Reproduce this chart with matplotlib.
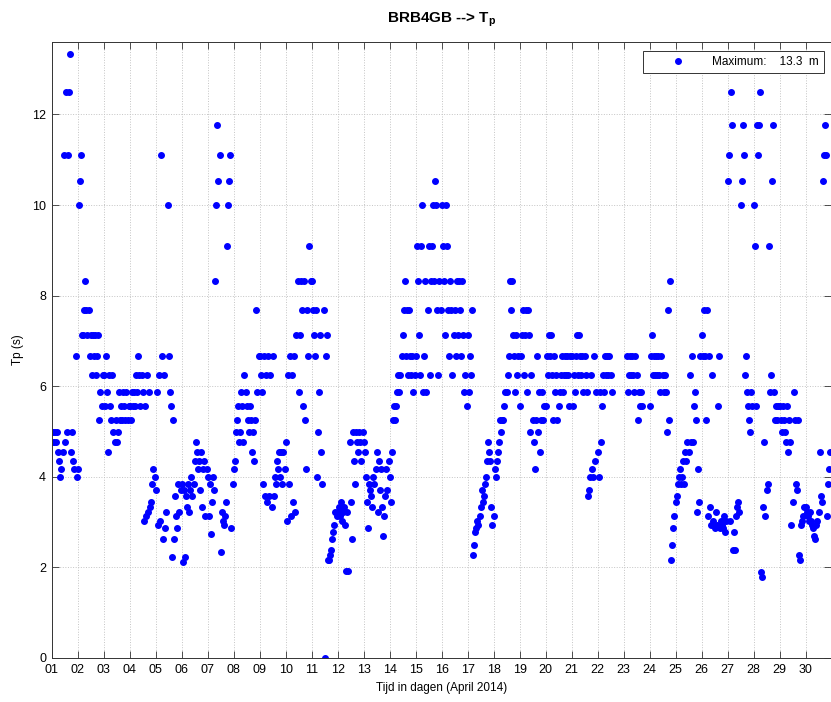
import numpy as np
import matplotlib.pyplot as plt

plt.rcParams['font.family'] = ['Liberation Sans', 'DejaVu Sans']
plt.rcParams['mathtext.fontset'] = 'custom'
plt.rcParams['mathtext.rm'] = 'Liberation Sans'
plt.rcParams['mathtext.bf'] = 'Liberation Sans:bold'

# hourly peak period Tp (s), one list per day of April 2014 (None = no data)
tp_01 = [4.76, 5.0, 4.76, 5.0, 4.76, 5.0, 4.55, 4.35, 4.0, 4.17, 4.55, 11.11, 4.76, 12.5, 5.0, 11.11, 12.5, 13.33, 4.55, 5.0, 4.35, 4.17, 6.67, 4.0]
tp_02 = [4.17, 10.0, 10.53, 11.11, 7.14, 7.14, 7.69, 8.33, 7.69, 7.14, 7.69, 6.67, 7.14, 6.25, 7.14, 6.67, 7.14, 6.25, 6.67, 7.14, 5.26, 5.88, 5.56, 6.25]
tp_03 = [6.25, 5.56, 6.67, 5.88, 4.55, 6.25, 5.56, 5.26, 6.25, 5.0, 4.76, 5.26, 4.76, 5.0, 5.88, 5.26, 5.56, 5.26, 5.88, 5.56, 5.26, 5.88, 5.26, 5.56]
tp_04 = [5.56, 5.26, 5.88, 5.56, 5.88, 5.56, 6.25, 5.88, 6.67, 6.25, 5.56, 6.25, 5.88, 3.03, 5.56, 3.13, 6.25, 3.23, 5.88, 3.33, 3.45, 3.85, 4.17, 4.0]
tp_05 = [3.7, 5.88, 2.94, 6.25, 3.03, 11.11, 6.67, 2.63, 6.25, 2.86, 3.23, 10.0, 6.67, 5.88, 5.56, 2.22, 5.26, 2.63, 3.57, 3.13, 2.86, 3.85, 3.23, 3.7]
tp_06 = [3.85, 2.13, 3.7, 2.22, 3.57, 3.33, 3.85, 3.23, 3.7, 4.0, 3.57, 3.85, 4.35, 4.76, 4.55, 4.17, 4.35, 3.7, 4.55, 3.33, 4.17, 4.35, 3.13, 4.17]
tp_07 = [4.0, 3.13, 3.85, 2.74, 3.45, 4.0, 3.7, 8.33, 10.0, 11.76, 10.53, 11.11, 2.33, 3.23, 3.03, 2.94, 3.13, 3.45, 9.09, 10.0, 10.53, 11.11, 2.86, 3.85]
tp_08 = [4.17, 4.35, 5.0, 5.26, 5.56, 4.76, 5.0, 5.88, 5.56, 4.76, 6.25, 5.88, 5.56, 5.26, 5.0, 5.56, 5.26, 4.55, 5.0, 4.35, 5.26, 7.69, 5.88, 6.67]
tp_09 = [6.67, 6.25, 5.88, 3.85, 6.67, 3.57, 6.25, 3.45, 6.67, 3.57, 6.25, 3.33, 6.67, 3.57, 4.0, 3.85, 4.35, 4.17, 4.55, 4.0, 4.55, 3.85, 4.55, 4.17]
tp_10 = [4.76, 3.03, 6.25, 3.85, 6.67, 3.13, 6.25, 3.45, 6.67, 3.23, 7.14, 8.33, 5.88, 7.14, 8.33, 7.69, 5.56, 8.33, 5.26, 4.17, 7.69, 6.67, 9.09, 8.33]
tp_11 = [8.33, 7.69, 7.14, 6.67, 7.69, 4.0, 5.0, 5.88, 7.14, 4.55, 3.85, 7.69, 0.0, 6.67, 7.14, 2.17, 2.17, 2.27, 2.38, 2.63, 2.78, 2.94, 3.23, 3.13]
tp_12 = [3.23, 3.33, 3.13, 3.45, 3.03, 3.23, 3.33, 2.94, 1.92, 3.23, 1.92, 4.76, 3.45, 2.63, 5.0, 4.35, 3.85, 5.0, 4.76, 4.55, 5.0, 4.76, 4.35, 5.0]
tp_13 = [4.76, 4.55, 4.0, 3.45, 2.86, 3.85, 3.7, 3.57, 3.33, 4.0, 3.85, 4.17, 4.55, 3.23, 4.35, 3.7, 4.17, 3.33, 2.7, 3.13, 3.57, 4.17, 3.7, 4.35]
tp_14 = [4.0, 3.45, 4.55, 5.26, 5.56, 5.26, 5.56, 5.88, 6.25, 5.88, 6.25, 6.67, 7.14, 7.69, 8.33, 6.67, 7.69, 6.25, 7.69, 6.67, 6.25, 6.67, 5.88, 6.25]
tp_15 = [6.67, 9.09, 8.33, 7.14, 6.25, 9.09, 10.0, 5.88, 6.67, 8.33, 5.88, 7.69, 9.09, 6.25, 8.33, 9.09, 10.0, 8.33, 10.53, 10.0, 7.69, 6.25, 8.33, 7.69]
tp_16 = [10.0, 9.09, 8.33, 7.14, 10.0, 9.09, 7.69, 6.67, 8.33, 7.69, 6.25, 7.14, 7.69, 6.67, 8.33, 7.14, 8.33, 7.69, 6.67, 8.33, 7.14, 5.88, 6.25, 5.56]
tp_17 = [7.14, 5.88, 6.67, 6.25, 7.69, 2.27, 2.5, 2.78, 2.86, 3.03, 2.94, 3.13, 3.33, 3.7, 3.45, 3.57, 3.85, 4.0, 4.35, 4.76, 4.55, 4.35, 3.33, 2.94]
tp_18 = [3.13, 4.17, 4.0, 4.35, 4.55, 4.76, 5.26, 5.0, 5.26, 5.26, 5.56, 5.88, 5.88, 6.25, 6.67, 8.33, 7.69, 8.33, 7.14, 6.67, 5.88, 7.14, 6.25, 6.67]
tp_19 = [5.56, 6.67, 7.14, 7.69, 6.25, 7.14, 7.69, 5.88, 7.69, 7.14, 5.0, 6.25, 5.26, 4.76, 4.17, 5.26, 6.67, 5.0, 5.88, 4.55, 5.26, 5.88, 5.26, 5.56]
tp_20 = [5.56, 6.67, 6.25, 7.14, 6.67, 7.14, 6.25, 5.26, 6.67, 5.88, 6.25, 5.26, 5.56, 5.88, 6.25, 6.67, 5.88, 6.25, 6.67, 6.25, 6.67, 6.25, 5.56, 6.67]
tp_21 = [6.67, 5.56, 6.25, 5.88, 6.67, 7.14, 6.25, 7.14, 6.67, 6.25, 6.67, 5.88, 6.67, 6.25, 5.88, 3.57, 3.7, 4.0, 6.25, 4.17, 4.0, 6.67, 4.35, 5.88]
tp_22 = [4.55, 4.0, 5.88, 4.76, 5.56, 6.25, 5.88, 6.67, 6.25, 6.67, 6.25, 6.67, 6.25, 5.88, None, None, None, None, None, None, None, None, None, None]
tp_23 = [None, None, None, 6.67, 5.88, 6.25, 6.67, 6.25, 6.67, 6.25, 5.88, 6.67, 6.25, 5.26, 5.88, 5.56, 5.88, 5.56, None, None, None, None, None, None]
tp_24 = [5.56, 6.67, 7.14, 6.25, 6.67, 6.25, 6.67, 6.25, 6.67, 6.25, 5.88, 6.67, 6.25, 5.88, 6.25, 5.88, 5.0, 7.69, 5.26, 8.33, 2.17, 2.5, 2.86, 3.13]
tp_25 = [3.45, 3.57, 3.85, 4.0, 4.17, 3.85, 4.0, 4.35, 3.85, 4.55, 4.35, 4.76, 4.55, 6.25, 4.76, 6.67, 4.76, 5.56, 5.88, 5.26, 3.23, 4.17, 3.45, 6.67]
tp_26 = [7.14, 6.67, 7.69, 6.67, 5.26, 7.69, 3.13, 6.67, 3.33, 2.94, 6.25, 3.03, 2.86, 3.23, 2.94, 5.56, 6.67, 2.86, 3.03, 2.94, 2.86, 3.13, 2.78, 3.03]
tp_27 = [10.53, 11.11, 3.03, 12.5, 11.76, 2.38, 2.78, 2.38, 3.13, 3.33, 3.45, 3.23, 10.0, 10.53, 11.76, 11.11, 6.25, 6.67, 5.88, 5.56, 5.26, 5.0, 5.88, 5.56]
tp_28 = [10.0, 9.09, 5.56, 11.76, 11.11, 11.76, 12.5, 1.89, 1.79, 3.33, 4.76, 3.13, 3.7, 3.85, 9.09, 5.88, 6.25, 10.53, 11.76, 5.88, 5.26, 5.56, 5.26, 5.56]
tp_29 = [5.56, 5.26, 5.0, 5.56, 5.26, 5.0, 4.76, 5.56, 4.55, 5.26, 4.76, 2.94, 3.45, 5.88, 5.26, 3.85, 3.7, 5.26, 2.27, 2.17, 2.94, 3.03, 3.13, 3.33]
tp_30 = [3.33, 3.23, 3.13, 3.03, 3.23, 3.03, 2.94, 2.86, 2.7, 2.63, 2.94, 3.03, 3.23, 4.55, 3.57, 3.45, 10.53, 11.11, 11.76, 11.11, 3.13, 3.85, 4.17, 4.55]

days = [tp_01, tp_02, tp_03, tp_04, tp_05, tp_06, tp_07, tp_08, tp_09, tp_10,
        tp_11, tp_12, tp_13, tp_14, tp_15, tp_16, tp_17, tp_18, tp_19, tp_20,
        tp_21, tp_22, tp_23, tp_24, tp_25, tp_26, tp_27, tp_28, tp_29, tp_30]
day_labels = ['%02d' % d for d in range(1, 31)]
tp_max = 13.3

# time axis in days: day number + hour/24
t = []
tp = []
for i, vals in enumerate(days):
    for h, v in enumerate(vals):
        t.append(i + 1 + h / 24.0)
        tp.append(v)
t = np.array(t)
tp = np.array(tp, dtype=float)

fig = plt.figure(figsize=(8.31, 7.02), dpi=100)
ax = fig.add_axes([0.0622, 0.0627, 0.9384, 0.8775])

ax.plot(t, tp, 'o', color=(0, 0, 1), ms=4.0, mec=(0, 0, 1), lw=0,
        label='Maximum:    %.1f  m' % tp_max)

ax.set_xlim(1, 31)
ax.set_ylim(0, 13.6)
ax.set_xticks(range(1, 31))
ax.set_xticklabels(day_labels)
ax.set_yticks(range(0, 13, 2))
ax.tick_params(direction='in', top=True, right=True, labelsize=9, length=5,
               width=0.6, color='#333333', pad=4)
ax.grid(True, linestyle=':', color='#c4c4c4', linewidth=0.7)
for s in ax.spines.values():
    s.set_linewidth(0.7)
    s.set_color('#333333')

ax.set_title(r'BRB4GB --> T$_\mathbf{p}$', fontsize=11, fontweight='bold', pad=14)
ax.set_xlabel('Tijd in dagen (April 2014)', fontsize=8.5, labelpad=5)
ax.set_ylabel('Tp (s)', fontsize=8.5, labelpad=6)

leg = ax.legend(loc='upper right', bbox_to_anchor=(0.990, 0.985), borderaxespad=0,
                fancybox=False, edgecolor='#333333', framealpha=1, fontsize=8.5,
                handlelength=5.2, handletextpad=0.3, borderpad=0.4)
leg.get_frame().set_linewidth(0.7)

fig.savefig('out.png', dpi=100)
